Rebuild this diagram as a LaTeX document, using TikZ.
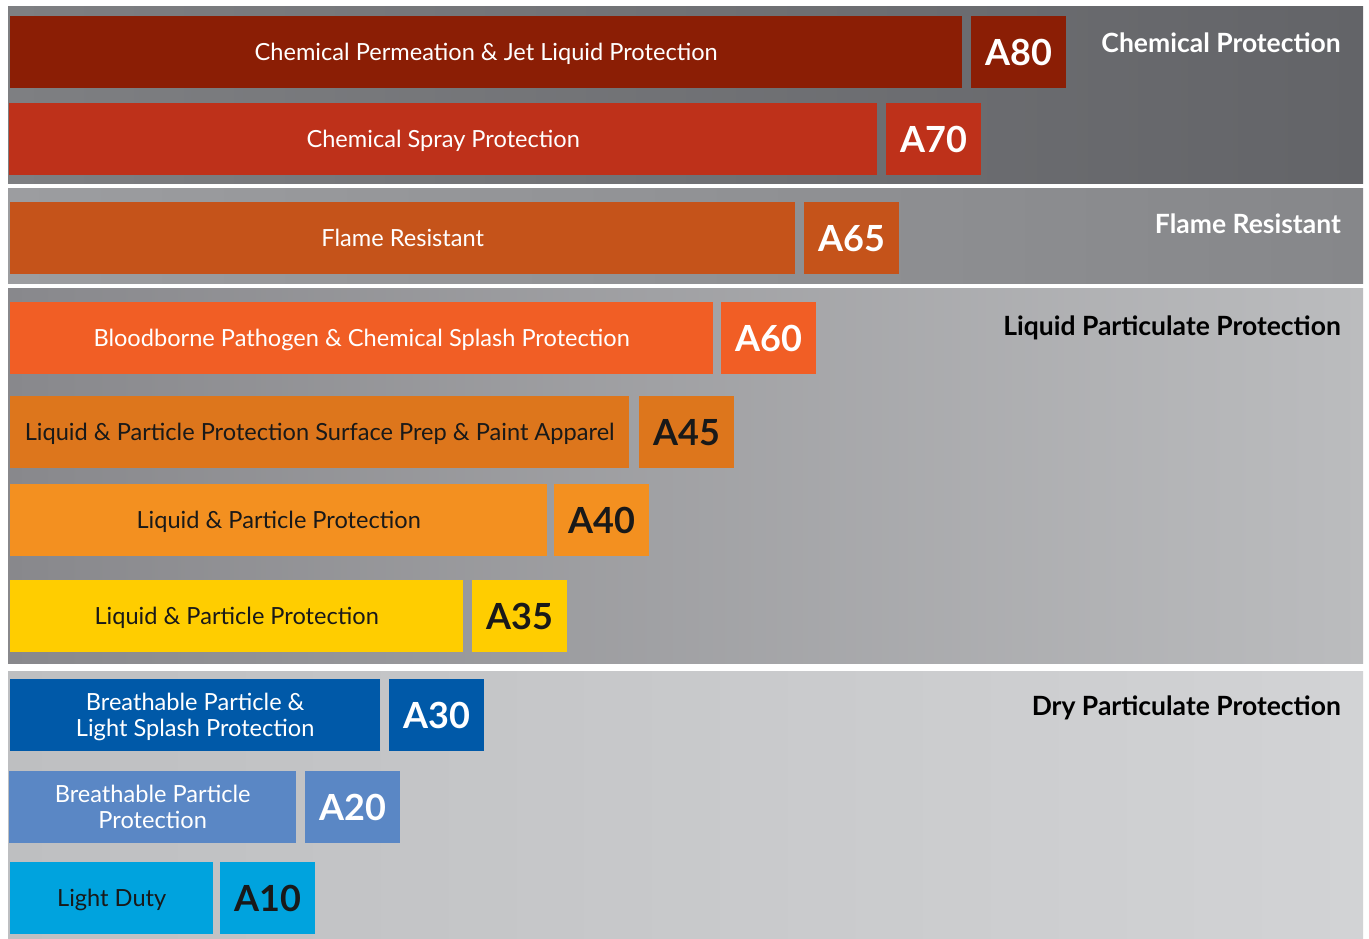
\documentclass[tikz,border=0pt]{standalone}
\usepackage{fontspec}
\setmainfont{Lato}
\begin{document}
\begin{tikzpicture}[x=1pt,y=-1pt,
  bar/.style={anchor=north west, inner sep=0pt, minimum height=72pt, align=center, text depth=0pt, font=\fontsize{23.6}{26}\selectfont},
  code/.style={anchor=north west, inner sep=0pt, minimum height=72pt, minimum width=95pt, font=\fontsize{36}{40}\selectfont\bfseries},
  wtxt/.style={text=white},
  btxt/.style={text=black!90},
  sect/.style={anchor=east, inner sep=0pt, font=\fontsize{26.5}{30}\selectfont\bfseries}
]
\definecolor{cA80}{HTML}{8B1E05}
\definecolor{cA70}{HTML}{BE311A}
\definecolor{cA65}{HTML}{C5531A}
\definecolor{cA60}{HTML}{F15E25}
\definecolor{cA45}{HTML}{DD761C}
\definecolor{cA40}{HTML}{F39020}
\definecolor{cA35}{HTML}{FFCD00}
\definecolor{cA30}{HTML}{0059A8}
\definecolor{cA20}{HTML}{5A87C5}
\definecolor{cA10}{HTML}{00A3DE}
\definecolor{chemL}{HTML}{7E7F82}
\definecolor{chemR}{HTML}{636468}
\definecolor{flameL}{HTML}{9C9DA0}
\definecolor{flameR}{HTML}{86878A}
\definecolor{liqL}{HTML}{88888C}
\definecolor{liqR}{HTML}{BBBCBE}
\definecolor{dryL}{HTML}{BEBFC1}
\definecolor{dryR}{HTML}{D2D3D5}
\useasboundingbox[fill=white] (0,0) rectangle (1369,938);
% bands
\shade[left color=chemL, right color=chemR] (8,6) rectangle (1363,183);
\shade[left color=flameL, right color=flameR] (8,188) rectangle (1363,283);
\shade[left color=liqL, right color=liqR] (8,288) rectangle (1363,663);
\shade[left color=dryL, right color=dryR] (8,671) rectangle (1363,938);
% section titles
\node[sect, text=white] (tchem) at (1341,43) {Chemical Protection};
\node[sect, text=white] (tflame) at (1341,224) {Flame Resistant};
\node[sect, text=black] (tliq) at (1341,328) {Liquid Particulate Protection};
\node[sect, text=black] (tdry) at (1341,708) {Dry Particulate Protection};
% A80
\node[bar, wtxt, fill=cA80, minimum width=952pt] (b80) at (10,16) {Chemical Permeation \& Jet Liquid Protection};
\node[code, wtxt, fill=cA80] (c80) at (971,16) {A80};
% A70
\node[bar, wtxt, fill=cA70, minimum width=868pt] (b70) at (9,103) {Chemical Spray Protection};
\node[code, wtxt, fill=cA70] (c70) at (886,103) {A70};
% A65
\node[bar, wtxt, fill=cA65, minimum width=785pt] (b65) at (10,202) {Flame Resistant};
\node[code, wtxt, fill=cA65] (c65) at (804,202) {A65};
% A60
\node[bar, wtxt, fill=cA60, minimum width=703pt] (b60) at (10,302) {Bloodborne Pathogen \& Chemical Splash Protection};
\node[code, wtxt, fill=cA60] (c60) at (721,302) {A60};
% A45
\node[bar, btxt, fill=cA45, minimum width=619pt] (b45) at (10,396) {Liquid \& Particle Protection Surface Prep \& Paint Apparel};
\node[code, btxt, fill=cA45] (c45) at (639,396) {A45};
% A40
\node[bar, btxt, fill=cA40, minimum width=537pt] (b40) at (10,484) {Liquid \& Particle Protection};
\node[code, btxt, fill=cA40] (c40) at (554,484) {A40};
% A35
\node[bar, btxt, fill=cA35, minimum width=453pt] (b35) at (10,580) {Liquid \& Particle Protection};
\node[code, btxt, fill=cA35] (c35) at (472,580) {A35};
% A30
\node[bar, wtxt, fill=cA30, minimum width=370pt] (b30) at (10,679) {Breathable Particle \&\\Light Splash Protection};
\node[code, wtxt, fill=cA30] (c30) at (389,679) {A30};
% A20
\node[bar, wtxt, fill=cA20, minimum width=287pt] (b20) at (9,771) {Breathable Particle\\Protection};
\node[code, wtxt, fill=cA20] (c20) at (305,771) {A20};
% A10
\node[bar, btxt, fill=cA10, minimum width=203pt] (b10) at (10,862) {Light Duty};
\node[code, btxt, fill=cA10] (c10) at (220,862) {A10};
\end{tikzpicture}
\end{document}
